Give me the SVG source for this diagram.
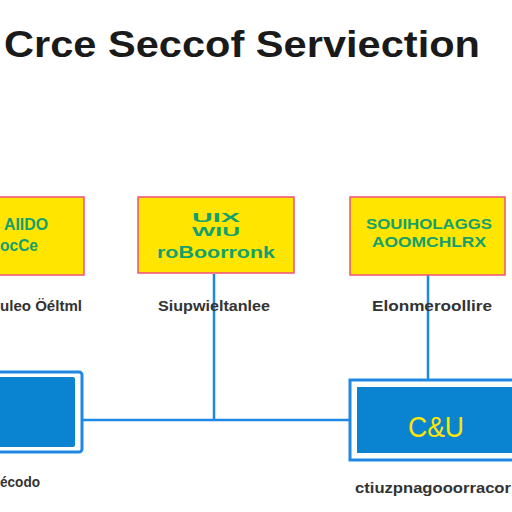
<svg xmlns="http://www.w3.org/2000/svg" width="512" height="512" viewBox="0 0 512 512">
<style>
.title{font-family:"Liberation Sans",Arial,sans-serif;font-weight:bold;fill:#1a1a1a}
.ybox{fill:#FFE500;stroke:#F0507A;stroke-width:1.5}
.gtxt{font-family:"Liberation Sans",Arial,sans-serif;font-weight:bold;fill:#14A06E;text-anchor:middle}
.lbl{font-family:"Liberation Sans",Arial,sans-serif;font-weight:bold;fill:#333;text-anchor:middle;font-size:15px}
.bframe{fill:#fff;stroke:#1E88E5;stroke-width:3}
.bfill{fill:#0A84D0}
.conn{stroke:#1E88E5;stroke-width:2.5;fill:none}
</style>
<rect width="512" height="512" fill="#fff"/>
<text class="title" x="4" y="57" font-size="36" textLength="476" lengthAdjust="spacingAndGlyphs">Crce Seccof Serviection</text>
<g id="connectors">
<line class="conn" x1="214" y1="274" x2="214" y2="420"/>
<line class="conn" x1="428" y1="275" x2="428" y2="380"/>
<line class="conn" x1="83" y1="420" x2="350" y2="420"/>
</g>
<g id="node1">
<rect class="ybox" x="-5" y="197" width="89" height="78"/>
<text class="gtxt" x="26" y="230" font-size="17" textLength="44" lengthAdjust="spacingAndGlyphs">AIIDO</text>
<text class="gtxt" x="19" y="251" font-size="17" textLength="38" lengthAdjust="spacingAndGlyphs">ocCe</text>
<text class="lbl" x="41" y="311" textLength="82" lengthAdjust="spacingAndGlyphs">uleo Öéltml</text>
</g>
<g id="node2">
<rect class="ybox" x="138" y="197" width="156" height="76"/>
<text class="gtxt" x="216" y="222" font-size="13" textLength="48" lengthAdjust="spacingAndGlyphs">UIX</text>
<text class="gtxt" x="216" y="236" font-size="13" textLength="48" lengthAdjust="spacingAndGlyphs">WIU</text>
<text class="gtxt" x="216" y="258" font-size="17" textLength="118" lengthAdjust="spacingAndGlyphs">roBoorronk</text>
<text class="lbl" x="214" y="311" textLength="112" lengthAdjust="spacingAndGlyphs">Siupwieltanlee</text>
</g>
<g id="node3">
<rect class="ybox" x="350" y="197" width="155" height="78"/>
<text class="gtxt" x="429" y="229" font-size="15" textLength="126" lengthAdjust="spacingAndGlyphs">SOUIHOLAGGS</text>
<text class="gtxt" x="429" y="247" font-size="15" textLength="114" lengthAdjust="spacingAndGlyphs">AOOMCHLRX</text>
<text class="lbl" x="432" y="311" textLength="120" lengthAdjust="spacingAndGlyphs">Elonmeroollire</text>
</g>
<g id="node4">
<rect class="bframe" x="-6" y="372" width="88" height="80" rx="3"/>
<rect class="bfill" x="-6" y="377" width="81" height="70" rx="2"/>
<text class="lbl" x="20" y="487" textLength="40" lengthAdjust="spacingAndGlyphs">écodo</text>
</g>
<g id="node5">
<rect class="bframe" x="350" y="380" width="170" height="80"/>
<rect class="bfill" x="357" y="387" width="160" height="66"/>
<text x="436" y="437" font-family="Liberation Sans,Arial,sans-serif" font-size="30" fill="#FFE500" text-anchor="middle" textLength="56" lengthAdjust="spacingAndGlyphs">C&amp;U</text>
<text class="lbl" x="433" y="493" textLength="156" lengthAdjust="spacingAndGlyphs">ctiuzpnagooorracor</text>
</g>
</svg>
